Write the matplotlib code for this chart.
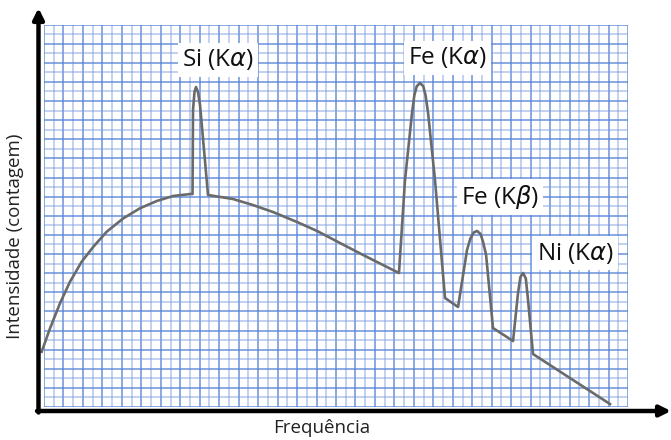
import matplotlib
matplotlib.use("Agg")
import matplotlib.pyplot as plt

# ---- data (frequency in grid units 0..60, intensity in grid units 0..40) ----
frequency = [-0.24, 0.62, 1.64, 2.67, 3.87, 5.07, 6.44, 8.15, 9.86, 11.58, 13.28, 15.00, 15.26,
             15.31, 15.46, 15.62, 15.82, 16.03, 16.85,
             19.42, 21.47, 23.53, 25.99, 28.05, 30.41, 32.78, 35.24, 36.47,
             37.09, 37.81, 38.05, 38.30, 38.63, 38.96, 39.20, 39.46, 40.17, 41.20, 42.54,
             43.46, 43.80, 44.15, 44.49, 44.85, 45.10, 45.42, 46.13, 48.19,
             48.70, 48.95, 49.22, 49.50, 49.73, 50.24, 58.15]
intensity = [5.78, 8.23, 10.84, 13.10, 15.19, 16.76, 18.33, 19.73, 20.78, 21.54, 22.07, 22.27, 22.27,
             31.06, 32.94, 33.46, 32.94, 31.58, 22.17,
             21.75, 21.12, 20.39, 19.35, 18.41, 17.15, 15.90, 14.64, 14.01,
             23.74, 30.75, 32.60, 33.55, 33.88, 33.55, 32.60, 30.75, 23.74, 11.40, 10.46,
             16.42, 17.60, 18.25, 18.41, 18.10, 17.30, 15.90, 8.26, 6.90,
             11.92, 13.60, 14.01, 13.45, 11.19, 5.54, 0.31]

peak_labels = ["Si (K$\\alpha$)", "Fe (K$\\alpha$)", "Fe (K$\\beta$)", "Ni (K$\\alpha$)"]
label_x = [17.88, 41.41, 46.85, 54.56]
label_y = [36.29, 36.50, 21.96, 16.10]

x_label = "Frequência"
y_label = "Intensidade (contagem)"

plt.rcParams['font.family'] = ['Open Sans', 'DejaVu Sans']
plt.rcParams['mathtext.fontset'] = 'dejavusans'

W, H = 671, 440
fig = plt.figure(figsize=(W / 100, H / 100), dpi=100)
fig.patch.set_facecolor('white')

left, right, top, bottom = 44, 628, 24.5, 407
ax = fig.add_axes([left / W, (H - bottom) / H, (right - left) / W, (bottom - top) / H])
ax.set_xlim(0, 60)
ax.set_ylim(0, 40)
ax.set_xticks(range(0, 61, 2))
ax.set_xticks(range(1, 61, 2), minor=True)
ax.set_yticks(range(0, 41, 2))
ax.set_yticks(range(1, 41, 2), minor=True)
ax.tick_params(which='both', length=0, labelbottom=False, labelleft=False)
for s in ax.spines.values():
    s.set_visible(False)
ax.grid(True, which='major', color='#5a86d8', linewidth=1.1, alpha=0.9)
ax.grid(True, which='minor', color='#7c9fe0', linewidth=1.1, alpha=0.6)
ax.set_axisbelow(True)

ax.plot(frequency, intensity, color='#6a6a6a', linewidth=1.9, clip_on=False,
        solid_joinstyle='round', zorder=3)

for txt, lx, ly in zip(peak_labels, label_x, label_y):
    ax.text(lx, ly, txt, fontsize=17.5, ha='center', va='center', color='#111111',
            zorder=4, bbox=dict(facecolor='white', edgecolor='none', pad=3))

# overlay for axis arrows in pixel coordinates
ov = fig.add_axes([0, 0, 1, 1])
ov.set_xlim(0, W)
ov.set_ylim(H, 0)
ov.axis('off')
ov.patch.set_alpha(0)
ov.annotate('', xy=(38.5, 8), xytext=(38.5, 412.5),
            arrowprops=dict(arrowstyle='-|>', lw=3.2, color='black', mutation_scale=16,
                            shrinkA=0, shrinkB=0))
ov.annotate('', xy=(671, 411), xytext=(37, 411),
            arrowprops=dict(arrowstyle='-|>', lw=3.2, color='black', mutation_scale=16,
                            shrinkA=0, shrinkB=0))

fig.text(322 / W, 1 - 428 / H, x_label, fontsize=13.5, ha='center', va='center', color='#222222')
fig.text(15 / W, 1 - 236 / H, y_label, fontsize=13.5, ha='center', va='center',
         rotation=90, color='#222222')

fig.savefig('out.png', dpi=100)
